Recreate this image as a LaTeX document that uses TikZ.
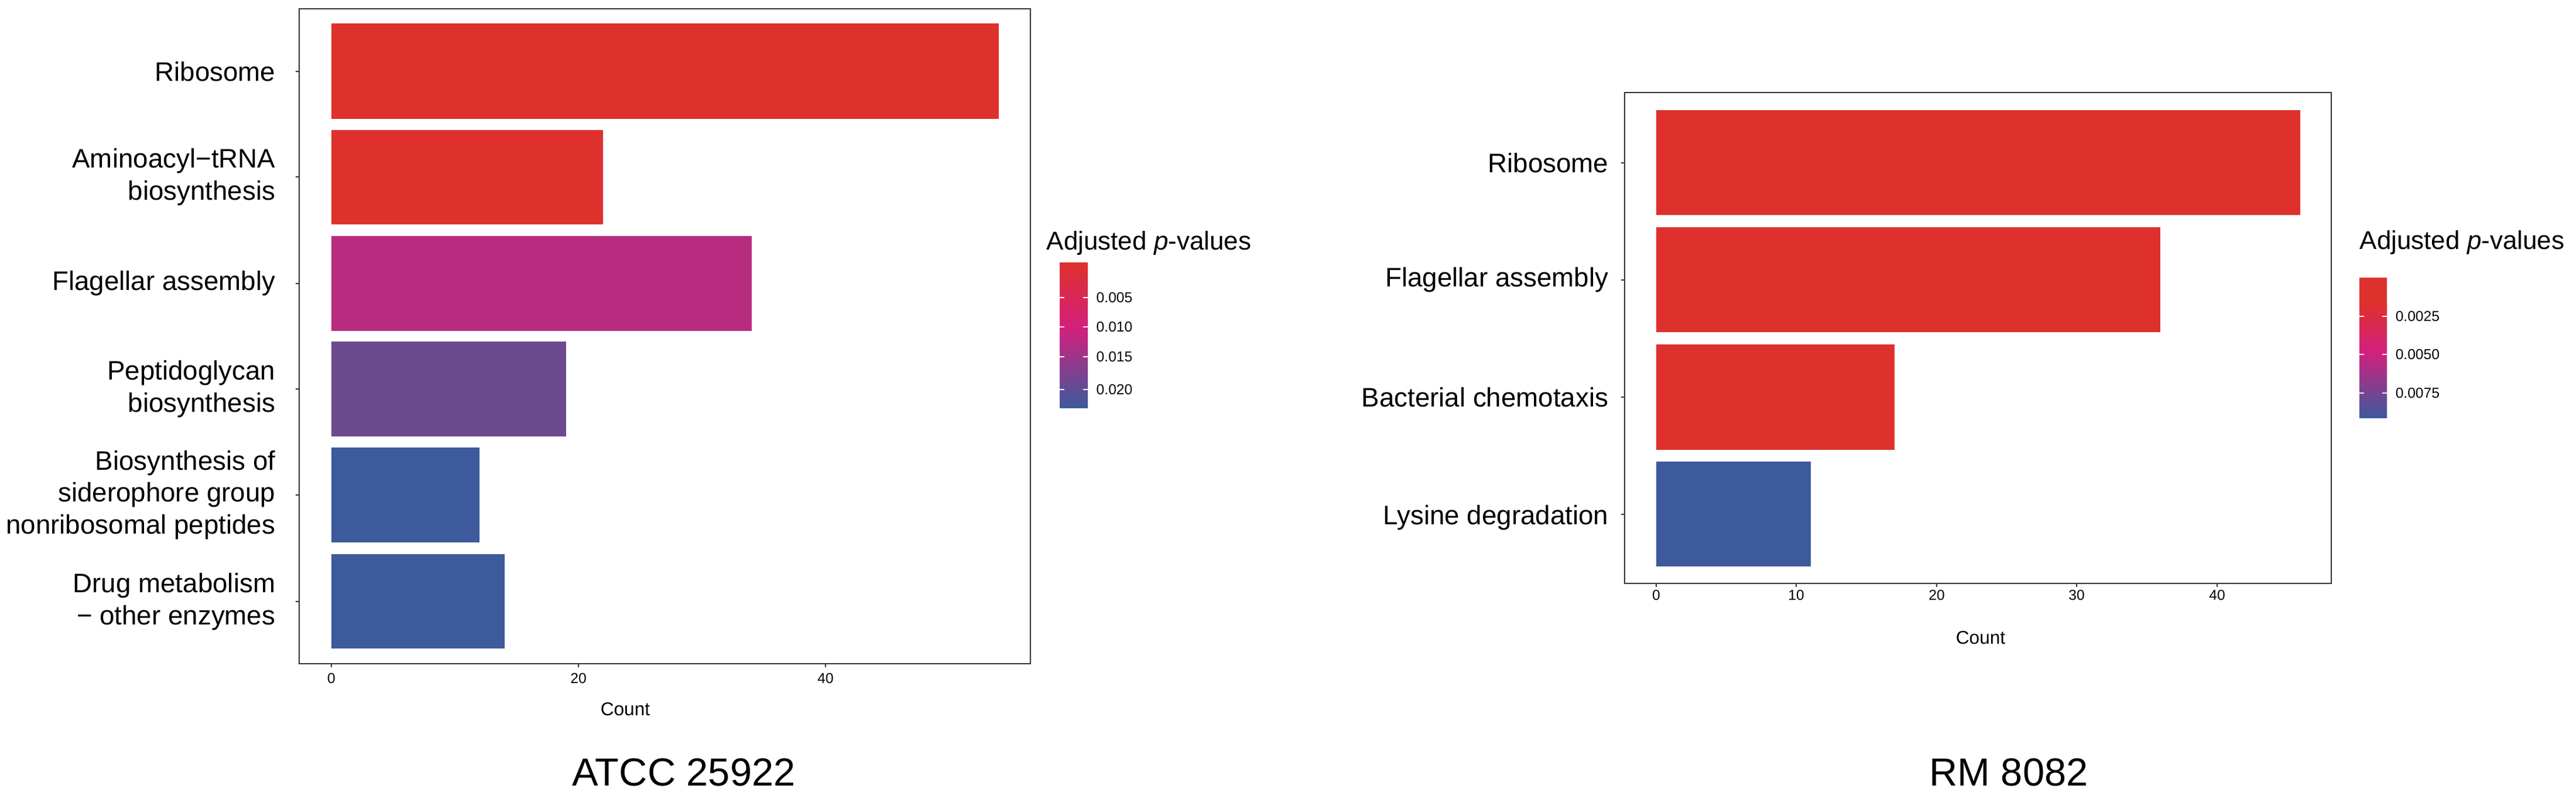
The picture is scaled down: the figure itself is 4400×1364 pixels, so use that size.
\documentclass[tikz,border=0pt]{standalone}
\usepackage{fontspec}
\setmainfont{Liberation Sans}
\begin{document}
\begin{tikzpicture}[x=0.01cm,y=-0.01cm,
  lab/.style={font=\fontsize{13}{15.5}\selectfont,align=right,anchor=east,inner sep=0pt},
  tick/.style={font=\fontsize{7}{8}\selectfont,inner sep=0pt},
  axl/.style={font=\fontsize{9}{10}\selectfont,inner sep=0pt},
  ttl/.style={font=\fontsize{19}{22}\selectfont,inner sep=0pt},
  leg/.style={font=\fontsize{12.5}{14}\selectfont,anchor=west,inner sep=0pt},
  frame/.style={draw=black!80,line width=0.8pt},
  tk/.style={draw=black!80,line width=0.6pt}]
\definecolor{cR}{HTML}{DE312D}
\definecolor{cM}{HTML}{B72C7F}
\definecolor{cP}{HTML}{6D4A8E}
\definecolor{cB}{HTML}{3D5A9C}
\definecolor{cMag}{HTML}{D41F7E}
\useasboundingbox (0,0) rectangle (4400,1364);
\fill[white] (0,0) rectangle (4400,1364);
% ---------- left panel ----------
\fill[cR] (566,40) rectangle (1706,203);
\fill[cR] (566,222) rectangle (1030,383);
\fill[cM] (566,403) rectangle (1284,565);
\fill[cP] (566,583) rectangle (967,745);
\fill[cB] (566,764) rectangle (819,926);
\fill[cB] (566,946) rectangle (862,1107);
\draw[frame] (511,15) rectangle (1760,1133);
\foreach \y in {122,302,484,664,845,1027} \draw[tk] (505,\y) -- (511,\y);
\foreach \x/\t in {566/0,988/20,1410/40}{
  \draw[tk] (\x,1133) -- (\x,1139);
  \node[tick] (lt\t) at (\x,1158) {\t};}
\node[lab] (l1) at (471,122) {Ribosome};
\node[lab] (l2) at (471,302) {Aminoacyl−tRNA\\biosynthesis};
\node[lab] (l3) at (471,484) {Flagellar assembly};
\node[lab] (l4) at (471,664) {Peptidoglycan\\biosynthesis};
\node[lab] (l5) at (471,845) {Biosynthesis of\\siderophore group\\nonribosomal peptides};
\node[lab] (l6) at (471,1027) {Drug metabolism\\− other enzymes};
\node[axl] (lc) at (1068,1211) {Count};
\node[ttl] (lttl) at (1168,1318) {ATCC 25922};
% left legend
\node[leg] (lleg) at (1787,415) {Adjusted \textit{p}-values};
\shade[top color=cR,bottom color=cMag] (1810,449) rectangle (1858,560);
\shade[top color=cMag,bottom color=cB] (1810,559) rectangle (1858,696);
\foreach \y/\t in {508/0.005,558/0.010,609/0.015,665/0.020}{
  \draw[white,line width=0.5pt] (1810,\y) -- (1818,\y) (1850,\y) -- (1858,\y);
  \node[tick,anchor=west] at (1872,\y) {\t};}
% ---------- right panel ----------
\fill[cR] (2829,188) rectangle (3929,367);
\fill[cR] (2829,388) rectangle (3690,567);
\fill[cR] (2829,588) rectangle (3236,768);
\fill[cB] (2829,788) rectangle (3093,967);
\draw[frame] (2775,158) rectangle (3982,996);
\foreach \y in {278,478,678,878} \draw[tk] (2769,\y) -- (2775,\y);
\foreach \x/\t in {2829/0,3068/10,3308/20,3547/30,3787/40}{
  \draw[tk] (\x,996) -- (\x,1002);
  \node[tick] (rt\t) at (\x,1016) {\t};}
\node[lab] (r1) at (2748,278) {Ribosome};
\node[lab] (r2) at (2748,478) {Flagellar assembly};
\node[lab] (r3) at (2748,678) {Bacterial chemotaxis};
\node[lab] (r4) at (2748,884) {Lysine degradation};
\node[axl] (rc) at (3383,1089) {Count};
\node[ttl] (rttl) at (3431,1318) {RM 8082};
% right legend
\node[leg] (rleg) at (4030,414) {Adjusted \textit{p}-values};
\fill[cR] (4030,474) rectangle (4077,520);
\shade[top color=cR,bottom color=cMag] (4030,519) rectangle (4077,600);
\shade[top color=cMag,bottom color=cB] (4030,599) rectangle (4077,713);
\foreach \y/\t in {540/0.0025,605/0.0050,671/0.0075}{
  \draw[white,line width=0.5pt] (4030,\y) -- (4038,\y) (4069,\y) -- (4077,\y);
  \node[tick,anchor=west] at (4091,\y) {\t};}
\end{tikzpicture}
\end{document}
